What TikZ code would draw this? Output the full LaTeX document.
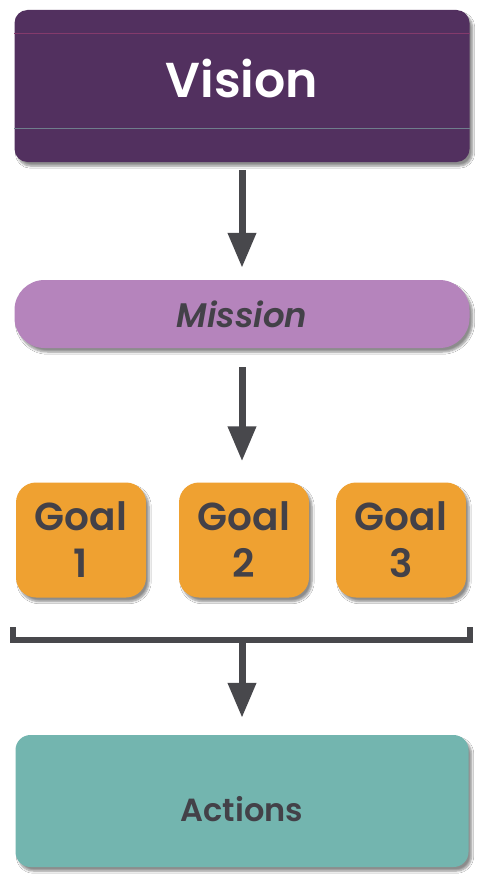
\documentclass[tikz,border=0pt]{standalone}
\usepackage{fontspec}
\setmainfont{Poppins}[BoldFont={Poppins SemiBold}, BoldItalicFont={Poppins SemiBold Italic}]
\usepackage{xcolor}
\definecolor{visionpurple}{HTML}{52305F}
\definecolor{visionred}{HTML}{843A6C}
\definecolor{visiongrey}{HTML}{6F7D8C}
\definecolor{missionlilac}{HTML}{B584BC}
\definecolor{goalorange}{HTML}{EFA131}
\definecolor{actteal}{HTML}{73B5AF}
\definecolor{inkgrey}{HTML}{434148}
\definecolor{arrowgrey}{HTML}{48484C}
\usetikzlibrary{positioning,arrows.meta,shadows.blur}

\begin{document}
\begin{tikzpicture}[
  x=1pt, y=-1pt,
  font=\bfseries,
  box/.style={draw=none, align=center, text=inkgrey, inner sep=0pt,
    blur shadow={shadow xshift=3pt, shadow yshift=-4pt, shadow blur steps=6, shadow opacity=45}},
  visionbox/.style={box, fill=visionpurple, text=white, rounded corners=13pt,
    minimum width=455pt, minimum height=152pt, font=\bfseries\fontsize{49}{53}\selectfont},
  missionbox/.style={box, fill=missionlilac, rounded corners=30pt,
    minimum width=455pt, minimum height=68pt, font=\bfseries\itshape\fontsize{34}{38}\selectfont},
  goalbox/.style={box, fill=goalorange, rounded corners=20pt,
    minimum width=130pt, minimum height=115pt, font=\bfseries\fontsize{39}{47}\selectfont},
  actbox/.style={box, fill=actteal, rounded corners=15pt,
    minimum width=453pt, minimum height=132pt, font=\bfseries\fontsize{32}{36}\selectfont},
  arr/.style={-{Triangle[length=35pt, width=27pt]}, line width=7pt, color=arrowgrey},
  brace/.style={line width=6pt, color=arrowgrey},
]
  \useasboundingbox[fill=white] (0,0) rectangle (477,880);
  % boxes, top to bottom
  \node[visionbox] (vision) at (242,86) {};
  \node[text=white, font=\bfseries\fontsize{49}{53}\selectfont] (visiontxt) at (242,79) {Vision};
  \draw[visionred, line width=1.2pt] ([yshift=-24pt]vision.north west) -- ([yshift=-24pt]vision.north east);
  \draw[visiongrey, line width=1pt] ([yshift=34pt]vision.south west) -- ([yshift=34pt]vision.south east);
  \node[missionbox] (mission) at (242,314) {Mission};
  \node[goalbox] (goal1) at (81,540)  {Goal\\1};
  \node[goalbox] (goal2) at (244,540) {Goal\\2};
  \node[goalbox] (goal3) at (401,540) {Goal\\3};
  \node[actbox] (actions) at (242,801) {};
  \node[text=inkgrey, font=\bfseries\fontsize{32}{36}\selectfont] (actionstxt) at (242,809) {Actions};
  % bracket under the goals
  \coordinate (brL) at (13,627);
  \coordinate (brR) at (470,627);
  \coordinate (brM) at (242,640);
  \draw[brace] (brL) -- (brL |- brM) -- (brR |- brM) -- (brR);
  % arrows
  \draw[arr, shorten <=8pt, shorten >=12pt] (vision.south -| brM) -- (mission.north -| brM);
  \draw[arr, shorten <=19pt, shorten >=21pt] (mission.south -| brM) -- (goal2.north -| brM);
  \draw[arr, shorten <=-3pt, shorten >=17pt] (brM) -- (actions.north -| brM);
\end{tikzpicture}
\end{document}
